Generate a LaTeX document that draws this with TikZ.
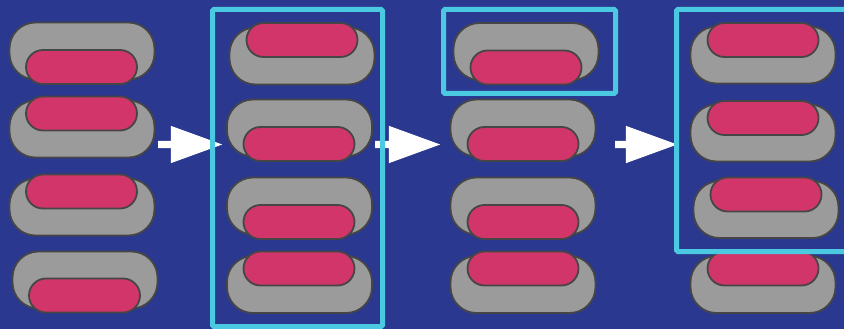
\documentclass[tikz,border=0pt]{standalone}
\usetikzlibrary{shapes.arrows}
\definecolor{bgblue}{HTML}{2A388F}
\definecolor{pillgray}{HTML}{9B9B9B}
\definecolor{pillred}{HTML}{D1356A}
\definecolor{edgegray}{HTML}{464646}
\definecolor{boxcyan}{HTML}{4BC9E1}
\begin{document}
\begin{tikzpicture}[x=1pt,y=-1pt,
  graypill/.style={draw=edgegray,fill=pillgray,line width=1.8pt,rectangle,rounded corners=26pt,
    minimum width=145pt,minimum height=57pt,inner sep=0pt},
  redpill/.style={draw=edgegray,fill=pillred,line width=1.8pt,rectangle,rounded corners=17pt,
    minimum width=111pt,minimum height=34pt,inner sep=0pt},
  bigarrow/.style={single arrow,fill=white,draw=none,inner xsep=0pt,inner ysep=3.5pt,anchor=tail,
    single arrow head extend=15pt,single arrow tip angle=40,single arrow head indent=0pt},
  selbox/.style={draw=boxcyan,line width=5pt,rounded corners=1.5pt}]
\fill[bgblue] (0,0) rectangle (844,329);
\useasboundingbox (0,0) rectangle (844,329);
\clip (0,0) rectangle (844,329);
% column 1
\node[graypill] (g11) at (82,51) {};   \node[redpill] (r11) at (81.5,67) {};
\node[graypill] (g12) at (82,129) {};  \node[redpill] (r12) at (81.5,113.5) {};
\node[graypill] (g13) at (82,207) {};  \node[redpill] (r13) at (81.5,191.5) {};
\node[graypill] (g14) at (85,280) {};  \node[redpill] (r14) at (84.5,295.5) {};
% column 2
\node[graypill] (g21) at (302,56) {};    \node[redpill] (r21) at (302,40) {};
\node[graypill] (g22) at (299.5,128) {}; \node[redpill] (r22) at (299,144) {};
\node[graypill] (g23) at (299.5,206) {}; \node[redpill] (r23) at (299,222) {};
\node[graypill] (g24) at (299.5,284.5) {}; \node[redpill] (r24) at (299,268.5) {};
% column 3
\node[graypill] (g31) at (526,51.5) {}; \node[redpill] (r31) at (526,67.5) {};
\node[graypill] (g32) at (523,128) {};  \node[redpill] (r32) at (523,144) {};
\node[graypill] (g33) at (523,206) {};  \node[redpill] (r33) at (523,222) {};
\node[graypill] (g34) at (523,284.5) {}; \node[redpill] (r34) at (523,268.5) {};
% column 4
\node[graypill] (g41) at (763,55) {};    \node[redpill] (r41) at (763,40) {};
\node[graypill] (g42) at (763,133) {};   \node[redpill] (r42) at (763,118) {};
\node[graypill] (g43) at (766,209.5) {}; \node[redpill] (r43) at (766,194.5) {};
\node[graypill] (g44) at (763,284.5) {}; \node[redpill] (r44) at (763,268.5) {};
% arrows
\node[bigarrow,minimum height=64pt] (a1) at (158,144.5) {};
\node[bigarrow,minimum height=65pt] (a2) at (375,144.5) {};
\node[bigarrow,minimum height=62pt] (a3) at (615,144.5) {};
% selection boxes
\draw[selbox] (212.5,9.5) rectangle (382.5,326.5);
\draw[selbox] (443.5,9.5) rectangle (615.5,93.5);
\draw[selbox] (676.5,9.5) rectangle (860,251.5);
\end{tikzpicture}
\end{document}
